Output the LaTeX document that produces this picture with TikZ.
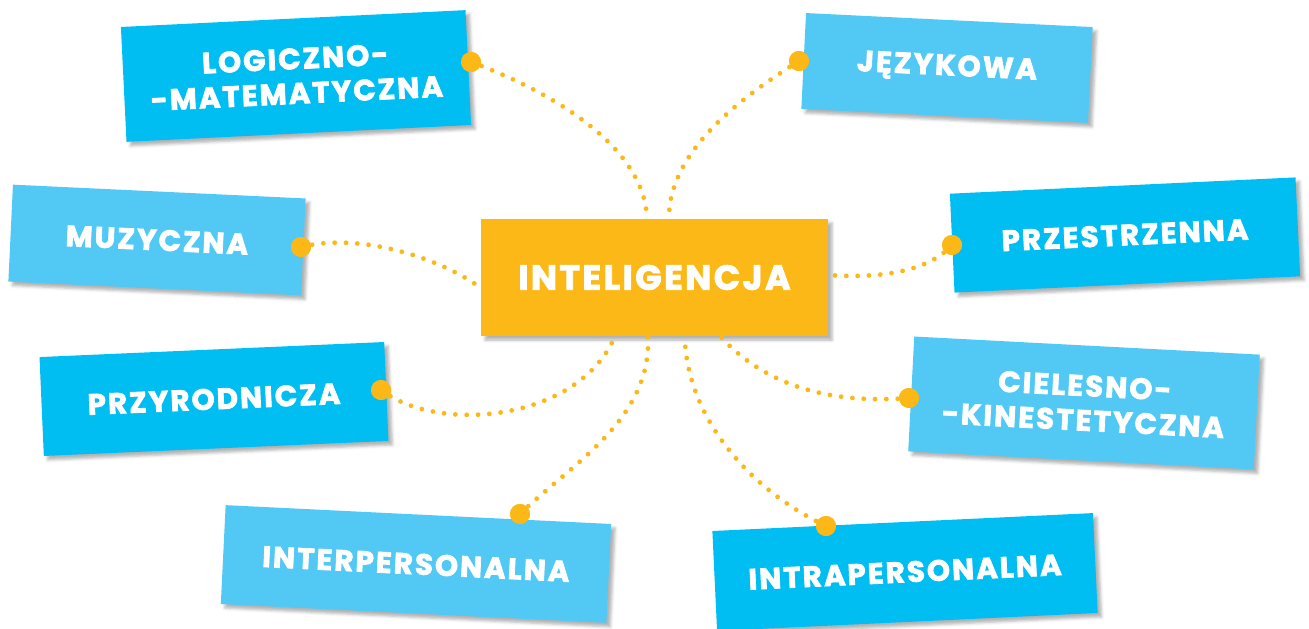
\documentclass[tikz,border=0pt]{standalone}
\usepackage{fontspec}
\setmainfont{Poppins}[LetterSpace=7, BoldFeatures={FakeBold=2.5}]
\usetikzlibrary{shadows.blur}
\definecolor{tileDark}{HTML}{00BDF2}
\definecolor{tileLight}{HTML}{52C9F4}
\definecolor{hubOrange}{HTML}{FBB817}
\tikzset{
  tile/.style={fill=#1, text=white, align=center, inner sep=0pt,
    font=\fontsize{22}{26}\selectfont\bfseries,
    blur shadow={shadow xshift=3pt, shadow yshift=-3pt, shadow opacity=30}},
  pindot/.style={circle, fill=hubOrange, inner sep=0pt, minimum size=15pt},
  dotline/.style={hubOrange, line width=3.6pt, line cap=round, dash pattern=on 0pt off 8.5pt}
}
\begin{document}
\begin{tikzpicture}[x=0.75pt,y=0.75pt,yscale=-1,xscale=1]
\useasboundingbox (0,0) rectangle (1309,628);

% Boxes
\node [tile=tileDark, rotate=2.8, minimum width=258.75pt, minimum height=86.25pt] (logic) at (296,76) {LOGICZNO-\\-MATEMATYCZNA};
\node [tile=tileLight, rotate=-2.8, minimum width=215.25pt, minimum height=72pt] (lang) at (947,68) {JĘZYKOWA};
\node [tile=tileLight, rotate=-2.7, minimum width=219.75pt, minimum height=72.75pt] (music) at (157,240) {MUZYCZNA};
\node [tile=tileDark, rotate=2.7, minimum width=259.5pt, minimum height=74.25pt] (space) at (1125,235) {PRZESTRZENNA};
\node [tile=tileDark, rotate=2.5, minimum width=258.75pt, minimum height=74.25pt] (nature) at (214,399) {PRZYRODNICZA};
\node [tile=tileLight, rotate=-3, minimum width=259.5pt, minimum height=86.25pt] (body) at (1084,403) {CIELESNO-\\-KINESTETYCZNA};
\node [tile=tileLight, rotate=-2.8, minimum width=289.5pt, minimum height=74.25pt] (inter) at (416,564) {INTERPERSONALNA};
\node [tile=tileDark, rotate=2.7, minimum width=285.75pt, minimum height=75pt] (intra) at (905,572) {INTRAPERSONALNA};

% Hub
\node [tile=hubOrange, minimum width=260.25pt, minimum height=87.75pt, font=\fontsize{26}{30}\selectfont\bfseries] (hub) at (654.5,277.5) {INTELIGENCJA};

% Ends on the hub
\coordinate (hLogic) at (647,219);
\coordinate (hLang) at (669,219);
\coordinate (hMusic) at (481,288);
\coordinate (hSpace) at (828,275);
\coordinate (hNature) at (615,336);
\coordinate (hInter) at (648,336);
\coordinate (hIntra) at (685,343);
\coordinate (hBody) at (720,336);

% Pins
\node [pindot] (pLogic) at (471,62) {};
\node [pindot] (pLang) at (799,61) {};
\node [pindot] (pMusic) at (301,247) {};
\node [pindot] (pSpace) at (952,245) {};
\node [pindot] (pNature) at (381,390) {};
\node [pindot] (pBody) at (909,398) {};
\node [pindot] (pInter) at (520,514) {};
\node [pindot] (pIntra) at (826,526) {};

% Dotted links
\draw [dotline] (pLogic.center) .. controls (560,95) and (645,150) .. (hLogic);
\draw [dotline] (pLang.center) .. controls (745,95) and (668,150) .. (hLang);
\draw [dotline] (pMusic.center) .. controls (360,232) and (440,258) .. (hMusic);
\draw [dotline] (pSpace.center) .. controls (925,275) and (870,278) .. (hSpace);
\draw [dotline] (pNature.center) .. controls (440,435) and (580,420) .. (hNature);
\draw [dotline] (pInter.center) .. controls (570,465) and (652,420) .. (hInter);
\draw [dotline] (pIntra.center) .. controls (750,490) and (690,420) .. (hIntra);
\draw [dotline] (pBody.center) .. controls (820,405) and (760,380) .. (hBody);

% Pins on top
\foreach \p in {pLogic,pLang,pMusic,pSpace,pNature,pBody,pInter,pIntra}
  \fill [hubOrange] (\p) circle [radius=7.5pt];

\end{tikzpicture}
\end{document}
